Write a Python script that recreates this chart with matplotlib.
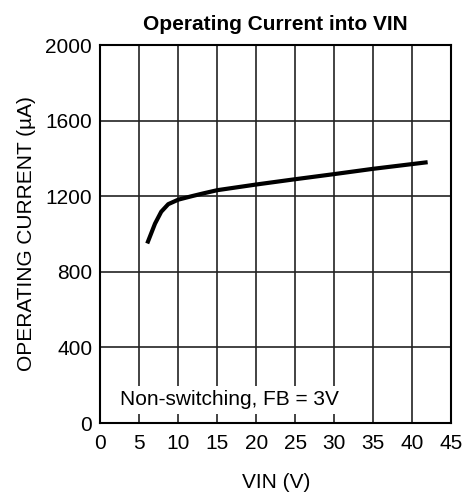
import matplotlib
matplotlib.use('Agg')
import matplotlib.pyplot as plt

plt.rcParams['font.family'] = ['Liberation Sans', 'DejaVu Sans']

vin = [6, 7, 7.8, 8.7, 10, 11.7, 13.2, 15, 20, 25, 30, 35, 42]
current = [950, 1055, 1118, 1158, 1182, 1200, 1215, 1232, 1262, 1290, 1317, 1345, 1380]
xticks = [0, 5, 10, 15, 20, 25, 30, 35, 40, 45]
yticks = [0, 400, 800, 1200, 1600, 2000]

fig = plt.figure(figsize=(4.7, 4.92), dpi=100)
ax = fig.add_axes([0.2138, 0.1402, 0.7458, 0.7683])

ax.plot(vin, current, color='black', linewidth=3, solid_capstyle='butt', zorder=3)

ax.set_xlim(0, 45)
ax.set_ylim(0, 2000)
ax.set_xticks(xticks)
ax.set_yticks(yticks)
ax.tick_params(axis='x', length=0, labelsize=15, pad=8)
ax.tick_params(axis='y', length=0, labelsize=15, pad=6)
ax.grid(True, color='#222222', linewidth=1.2)
for s in ax.spines.values():
    s.set_linewidth(1.5)

ax.set_title('Operating Current into VIN', fontsize=15, fontweight='bold', pad=11)
ax.set_xlabel('VIN (V)', fontsize=15, labelpad=14)
ax.set_ylabel('OPERATING CURRENT (µA)', fontsize=15, labelpad=7)

ax.text(16.5, 122, 'Non-switching, FB = 3V', fontsize=15, ha='center', va='center',
        bbox=dict(facecolor='white', edgecolor='none', pad=3), zorder=4)

fig.savefig('out.png', dpi=100)
